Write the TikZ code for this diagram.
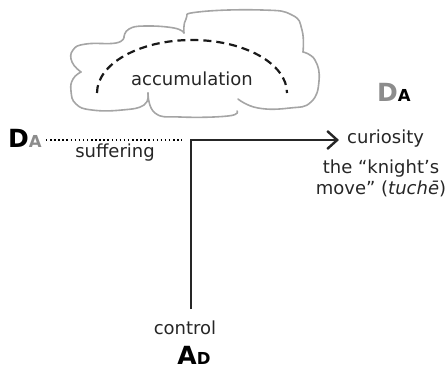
\documentclass[tikz,border=0pt]{standalone}
\usepackage{fontspec}
\setmainfont{DejaVu Sans}
\usetikzlibrary{arrows.meta}
\definecolor{cloudgray}{RGB}{165,165,165}
\definecolor{lettergray}{RGB}{140,140,140}
\tikzset{
  cloudline/.style={draw=cloudgray, line width=1.6pt, line cap=round, line join=round},
  lbl/.style={inner sep=0pt, font=\fontsize{18}{21}\selectfont, text=black!85},
  big/.style={inner sep=0pt, font=\bfseries\fontsize{25}{25}\selectfont},
  mainline/.style={line width=2.4pt, draw=black!85},
}
\newcommand{\smallcap}[1]{{\fontsize{16.5}{16.5}\selectfont #1}}
\begin{document}
\begin{tikzpicture}[x=1pt,y=-1pt]
\useasboundingbox (0,0) rectangle (448,381);
% cloud
\draw[cloudline] plot[smooth,tension=0.8] coordinates {(81,72) (72,62) (73,50) (86,44) (116,43) (124,37)};
\draw[cloudline] plot[smooth,tension=0.8] coordinates {(124,37) (129,29) (145,26) (174,28) (184,33)};
\draw[cloudline] plot[smooth,tension=0.8] coordinates {(184,33) (186,19) (198,12) (262,10) (292,15) (302,30) (303,52)};
\draw[cloudline] plot[smooth,tension=0.8] coordinates {(303,52) (315,60) (319,81) (311,102) (290,108) (258,108) (238,99)};
\draw[cloudline] plot[smooth,tension=0.8] coordinates {(237,111) (228,116) (180,117) (155,113) (148,93)};
\draw[cloudline] plot[smooth,tension=0.8] coordinates {(148,93) (144,105) (122,110) (92,110) (76,104) (71,91) (73,79) (81,72)};
% dashed arc
\draw[line width=2.2pt, dash pattern=on 8pt off 5pt, draw=black!90] (97,93) arc[start angle=180, end angle=360, x radius=95, y radius=53];
\node[lbl] (accum) at (192,79) {accumulation};
% letters
\node[big, anchor=west] (DAright) at (377,92) {\textcolor{lettergray}{D}\smallcap{A}};
\node[big, anchor=west] (DAleft) at (8,138) {D\textcolor{lettergray}{\smallcap{A}}};
\node[big] (ADbot) at (194,355) {A\smallcap{D}};
% labels
\node[lbl] (suffer) at (115,153) {suffering};
\node[lbl, anchor=west] (curio) at (347,139) {curiosity};
\node[lbl, align=center] (knight) at (381,178) {the “knight’s\\move” (\textit{tuchē})};
\node[lbl] (control) at (185,328) {control};
% connectors
\coordinate (dotend) at (182,140);
\coordinate (vbot) at (191,309);
\coordinate (corner) at (191,140);
\draw[line width=1.5pt, dash pattern=on 1.5pt off 2.6pt] ([xshift=4pt]DAleft.east |- dotend) -- (dotend);
\draw[mainline, line join=miter, -{Straight Barb[length=10pt, width=18pt, line width=2.4pt]}] (vbot) -- (corner) -- ([xshift=-8pt]curio.west |- corner);
\end{tikzpicture}
\end{document}
